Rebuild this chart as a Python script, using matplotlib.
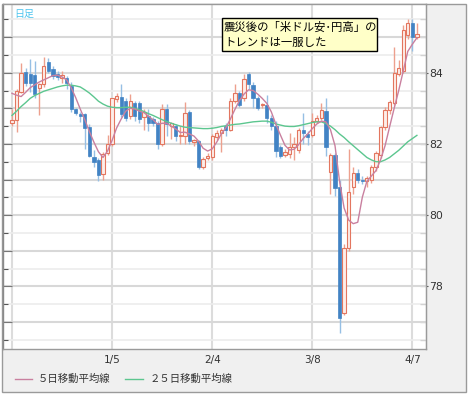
import numpy as np
import pandas as pd
import matplotlib

matplotlib.use("Agg")
import matplotlib.pyplot as plt
from matplotlib.lines import Line2D
from matplotlib.patches import Rectangle
from matplotlib.ticker import MultipleLocator

W, H = 470, 397
JP = ["Noto Sans CJK JP", "DejaVu Sans"]

# daily USD/JPY candles, Dec 6 2010 - Apr 8 2011 (weekdays)
dates = pd.bdate_range("2010-12-06", "2011-04-08")
opens = [82.60, 82.67, 83.47, 84.02, 83.95, 83.93, 83.58, 83.67, 84.30, 84.10,
         83.95, 83.85, 83.85, 83.62, 82.97, 82.85, 82.85, 82.48, 81.63, 81.55,
         81.15, 81.75, 82.00, 83.25, 83.33, 83.20, 82.78, 83.15, 83.14, 82.76,
         82.78, 82.69, 82.60, 82.01, 82.99, 82.50, 82.50, 82.22, 82.22, 82.90,
         82.05, 82.08, 81.34, 81.60, 81.62, 82.20, 82.32, 82.50, 82.40, 83.20,
         83.44, 83.30, 83.95, 83.65, 83.28, 83.08, 83.10, 82.73, 82.50, 81.90,
         81.68, 81.72, 81.90, 81.83, 82.40, 82.28, 82.25, 82.63, 82.72, 82.93,
         81.20, 81.68, 80.78, 77.25, 79.08, 80.80, 81.18, 81.00, 80.95, 80.98,
         81.35, 81.70, 82.48, 82.95, 83.15, 83.95, 84.05, 85.05, 85.40, 85.00]
highs = [82.98, 83.55, 84.26, 84.12, 84.38, 84.33, 83.70, 84.45, 84.42, 84.20,
         84.05, 84.05, 83.92, 83.75, 83.02, 82.90, 82.88, 82.55, 81.82, 81.60,
         81.78, 82.25, 83.30, 83.42, 83.68, 83.30, 83.40, 83.20, 83.20, 82.97,
         82.97, 82.75, 82.65, 83.11, 83.11, 82.62, 82.55, 82.50, 83.18, 82.95,
         82.15, 82.10, 81.62, 81.75, 82.28, 82.40, 82.45, 82.60, 83.30, 83.67,
         83.50, 83.95, 84.02, 83.75, 83.35, 83.15, 83.37, 82.80, 82.65, 81.98,
         81.85, 82.30, 82.20, 82.44, 82.86, 82.35, 82.86, 82.80, 83.14, 83.28,
         81.75, 81.75, 81.00, 79.20, 81.85, 81.35, 81.30, 81.10, 81.10, 81.40,
         81.80, 82.50, 83.05, 83.23, 84.73, 84.35, 85.34, 85.50, 85.50, 85.40]
lows = [82.50, 82.33, 83.42, 83.62, 83.47, 83.28, 82.81, 83.60, 83.98, 83.82,
        83.80, 83.70, 83.55, 82.90, 82.80, 82.62, 81.85, 81.62, 81.35, 80.95,
        81.00, 81.70, 81.95, 83.18, 82.75, 82.65, 82.70, 82.65, 82.60, 82.40,
        82.36, 82.50, 81.85, 81.95, 82.22, 82.13, 82.08, 81.99, 81.99, 81.99,
        81.95, 81.30, 81.30, 81.55, 81.55, 82.10, 81.78, 82.22, 82.35, 83.15,
        83.05, 83.20, 83.55, 83.00, 82.95, 83.02, 82.60, 82.40, 81.62, 81.60,
        81.62, 81.60, 81.55, 81.74, 82.00, 81.98, 82.20, 82.60, 82.67, 81.66,
        80.60, 80.55, 76.70, 77.20, 79.00, 80.60, 80.90, 80.88, 80.80, 80.90,
        81.25, 81.60, 82.40, 82.85, 83.10, 83.90, 84.00, 84.95, 84.60, 84.95]
closes = [82.68, 83.50, 84.00, 83.72, 83.70, 83.40, 83.67, 84.20, 84.05, 83.92,
          83.88, 83.93, 83.70, 82.98, 82.88, 82.78, 82.45, 81.65, 81.50, 81.13,
          81.72, 82.00, 83.28, 83.35, 82.85, 82.72, 83.20, 82.78, 82.70, 82.90,
          82.60, 82.58, 81.99, 82.99, 82.55, 82.60, 82.22, 82.26, 82.88, 82.08,
          82.10, 81.34, 81.59, 81.66, 82.22, 82.31, 82.38, 82.38, 83.20, 83.44,
          83.10, 83.82, 83.68, 83.30, 83.00, 83.12, 82.72, 82.50, 81.80, 81.65,
          81.78, 81.90, 82.00, 82.39, 82.30, 82.20, 82.63, 82.74, 82.95, 81.90,
          81.70, 80.75, 77.10, 79.08, 80.66, 81.18, 81.00, 80.95, 81.05, 81.35,
          81.74, 82.47, 82.95, 83.18, 83.98, 84.12, 85.20, 85.40, 85.00, 85.10]

# moving averages as drawn on the chart
ma5 = [83.42, 83.37, 83.33, 83.45, 83.58, 83.66, 83.74, 83.80, 83.86, 83.92,
       83.93, 83.88, 83.80, 83.58, 83.30, 82.98, 82.68, 82.35, 82.05, 81.78,
       81.62, 81.80, 82.10, 82.45, 82.70, 82.92, 83.00, 82.98, 82.92, 82.88,
       82.78, 82.68, 82.55, 82.58, 82.58, 82.50, 82.42, 82.32, 82.33, 82.28,
       82.22, 82.08, 81.88, 81.80, 81.86, 82.05, 82.28, 82.45, 82.70, 82.97,
       83.22, 83.40, 83.52, 83.50, 83.40, 83.28, 83.14, 82.90, 82.55, 82.25,
       81.96, 81.83, 81.85, 81.98, 82.15, 82.28, 82.43, 82.56, 82.64, 82.62,
       82.40, 81.95, 80.95, 80.20, 79.86, 79.76, 79.80, 80.50, 80.95, 81.10,
       81.25, 81.55, 81.95, 82.48, 83.00, 83.50, 84.05, 84.60, 84.80, 84.98]
ma25 = [82.80, 82.92, 83.05, 83.16, 83.28, 83.36, 83.42, 83.48, 83.52, 83.56,
        83.60, 83.63, 83.65, 83.65, 83.63, 83.60, 83.52, 83.43, 83.32, 83.20,
        83.12, 83.06, 83.03, 83.02, 83.02, 83.03, 83.03, 83.00, 82.96, 82.91,
        82.85, 82.80, 82.74, 82.68, 82.63, 82.58, 82.54, 82.50, 82.47, 82.46,
        82.45, 82.44, 82.43, 82.43, 82.44, 82.46, 82.49, 82.51, 82.53, 82.55,
        82.56, 82.58, 82.60, 82.62, 82.63, 82.64, 82.64, 82.61, 82.56, 82.53,
        82.50, 82.49, 82.49, 82.51, 82.54, 82.57, 82.60, 82.62, 82.62, 82.57,
        82.50, 82.40, 82.28, 82.18, 82.06, 81.95, 81.84, 81.73, 81.62, 81.55,
        81.50, 81.50, 81.55, 81.62, 81.72, 81.82, 81.94, 82.06, 82.15, 82.24]

grid_dates = ["2010-12-06", "2011-01-05", "2011-02-04", "2011-03-08", "2011-04-07"]
y_labels = [78, 80, 82, 84]

RED_EDGE, RED_FILL, RED_WICK = "#e3765f", "#fdeee9", "#eda08e"
BLUE_BODY, BLUE_WICK = "#4283c4", "#96bfe4"
MA5_COLOR, MA25_COLOR = "#c9809f", "#5cc68f"


def fx(px):
    return px / W


def fy(py):
    return 1 - py / H


fig = plt.figure(figsize=(W / 100, H / 100), dpi=100)
fig.patch.set_facecolor("white")
fig.add_artist(Rectangle((fx(2), fy(392)), (466 - 2) / W, (392 - 4) / H,
                         transform=fig.transFigure, facecolor="#f0f0f0",
                         edgecolor="#9a9a9a", lw=1, zorder=-5))

ax = fig.add_axes([fx(3), fy(349), 423 / W, 345 / H])
ax.set_facecolor("white")

idx = np.arange(len(dates))
o, h, l, c = (np.array(a) for a in (opens, highs, lows, closes))
up = c >= o

ax.vlines(idx[up], l[up], h[up], color=RED_WICK, lw=1, zorder=3)
ax.vlines(idx[~up], l[~up], h[~up], color=BLUE_WICK, lw=1, zorder=3)
lo = np.minimum(o, c)
hh = np.maximum(np.abs(c - o), 0.03)
ax.bar(idx[up], hh[up], bottom=lo[up], width=0.72, facecolor=RED_FILL,
       edgecolor=RED_EDGE, lw=0.8, zorder=4)
ax.bar(idx[~up], hh[~up], bottom=lo[~up], width=0.72, facecolor=BLUE_BODY,
       edgecolor=BLUE_BODY, lw=0.5, zorder=4)

ax.plot(idx, ma25, color=MA25_COLOR, lw=1.0, zorder=5)
ax.plot(idx, ma5, color=MA5_COLOR, lw=1.0, zorder=5)

ax.set_xlim(-1.98, 91.0)
ax.set_ylim(76.24, 85.93)

# grids
ax.yaxis.set_major_locator(MultipleLocator(1))
ax.yaxis.set_minor_locator(MultipleLocator(0.5))
ax.grid(which="major", axis="y", color="#d8d8d8", lw=1.5, zorder=0)
ax.grid(which="minor", axis="y", color="#ececec", lw=1.2, zorder=0)
pos = [dates.get_loc(pd.Timestamp(d)) for d in grid_dates]
ax.set_xticks(pos)
ax.set_xticklabels([""] + [f"{pd.Timestamp(d).month}/{pd.Timestamp(d).day}" for d in grid_dates[1:]])
ax.grid(which="major", axis="x", color="#dcdcdc", lw=1.5, zorder=0)
ax.set_axisbelow(True)

ax.tick_params(axis="x", length=0, pad=4.5, labelsize=7.5, labelcolor="#333333")
ax.tick_params(axis="y", which="major", direction="in", length=6.5, width=0.8,
               color="#777777", labelleft=False)
ax.tick_params(axis="y", which="minor", direction="in", length=3.6, width=0.8,
               color="#555555")

for side, col in [("left", "#8a8a8a"), ("bottom", "#9a9a9a"),
                  ("right", "#9a9a9a"), ("top", "#9a9a9a")]:
    ax.spines[side].set_color(col)
    ax.spines[side].set_linewidth(1.0)

sec = ax.secondary_yaxis("right")
sec.set_yticks(y_labels)
sec.yaxis.set_minor_locator(MultipleLocator(0.5))
sec.yaxis.remove_overlapping_locs = False
sec.tick_params(which="major", direction="out", length=1.6, width=0.8, pad=0.8,
                labelsize=7.8, labelcolor="#333333", color="#555555")
sec.tick_params(which="minor", direction="in", length=4.3, width=0.8, color="#555555")
sec.spines["right"].set_color("#9a9a9a")

# label top-left
fig.text(fx(14), fy(14), "日足", fontsize=7.2, color="#4cc4ee", family=JP, va="center")

# annotation box
fig.add_artist(Rectangle((fx(222), fy(51)), (377 - 222) / W, (51 - 18) / H,
                         transform=fig.transFigure, facecolor="#ffffc8",
                         edgecolor="black", lw=1, zorder=6))
fig.text(fx(224), fy(27), "震災後の「米ドル安\uff65円高」の", fontsize=8.2,
         family=JP, va="center", color="black", zorder=7)
fig.text(fx(224), fy(43), "トレンドは一服した", fontsize=8.2,
         family=JP, va="center", color="black", zorder=7)

# legend
for (x0, x1, tx), col, lab in [((15, 32, 38), MA5_COLOR, "５日移動平均線"),
                                ((125, 143, 150), MA25_COLOR, "２５日移動平均線")]:
    fig.add_artist(Line2D([fx(x0), fx(x1)], [fy(379), fy(379)],
                          transform=fig.transFigure, color=col, lw=1.0))
    fig.text(fx(tx), fy(379), lab, fontsize=7.5, family=JP, va="center",
             color="#333333")

fig.savefig("out.png", dpi=100)
plt.close(fig)
